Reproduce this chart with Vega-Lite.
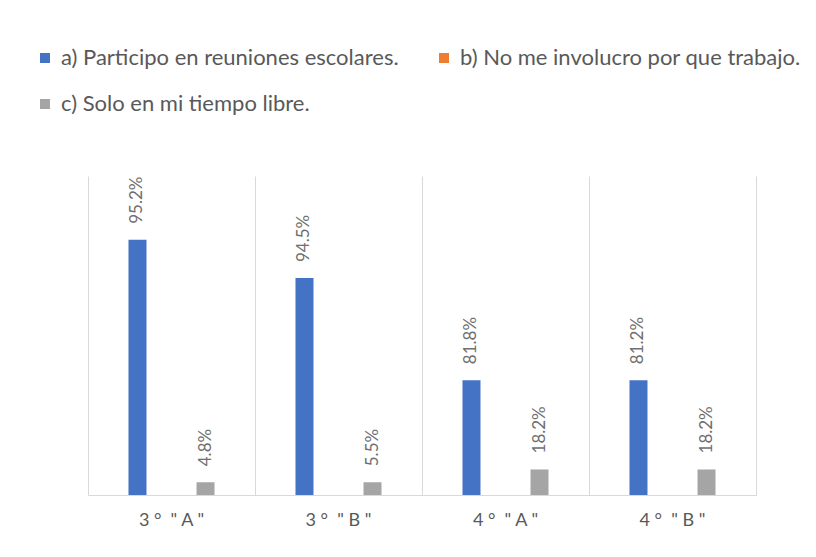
{
  "$schema": "https://vega.github.io/schema/vega-lite/v6.json",
  "autosize": "none",
  "width": 668,
  "height": 319,
  "padding": {"left": 88, "top": 176, "right": 60, "bottom": 62},
  "background": "white",
  "config": {"view": {"stroke": null}, "font": "Lato"},
  "data": {"values": [
    {"grupo": "3 °  \u00a0\" A \"", "serie": "a) Participo en reuniones escolares.", "valor": 20, "etiqueta": "95.2%"},
    {"grupo": "3 °  \u00a0\" A \"", "serie": "b) No me involucro por que trabajo.", "valor": 0, "etiqueta": ""},
    {"grupo": "3 °  \u00a0\" A \"", "serie": "c) Solo en mi tiempo libre.", "valor": 1, "etiqueta": "4.8%"},
    {"grupo": "3 °  \u00a0\" B \"", "serie": "a) Participo en reuniones escolares.", "valor": 17, "etiqueta": "94.5%"},
    {"grupo": "3 °  \u00a0\" B \"", "serie": "b) No me involucro por que trabajo.", "valor": 0, "etiqueta": ""},
    {"grupo": "3 °  \u00a0\" B \"", "serie": "c) Solo en mi tiempo libre.", "valor": 1, "etiqueta": "5.5%"},
    {"grupo": "4 °  \u00a0\" A \"", "serie": "a) Participo en reuniones escolares.", "valor": 9, "etiqueta": "81.8%"},
    {"grupo": "4 °  \u00a0\" A \"", "serie": "b) No me involucro por que trabajo.", "valor": 0, "etiqueta": ""},
    {"grupo": "4 °  \u00a0\" A \"", "serie": "c) Solo en mi tiempo libre.", "valor": 2, "etiqueta": "18.2%"},
    {"grupo": "4 °  \u00a0\" B \"", "serie": "a) Participo en reuniones escolares.", "valor": 9, "etiqueta": "81.2%"},
    {"grupo": "4 °  \u00a0\" B \"", "serie": "b) No me involucro por que trabajo.", "valor": 0, "etiqueta": ""},
    {"grupo": "4 °  \u00a0\" B \"", "serie": "c) Solo en mi tiempo libre.", "valor": 2, "etiqueta": "18.2%"}
  ]},
  "encoding": {
    "x": {
      "field": "grupo", "type": "nominal", "sort": null,
      "scale": {"paddingInner": 0, "paddingOuter": 0},
      "axis": {"title": null, "labelAngle": 0, "ticks": false, "grid": true, "gridColor": "#d9d9d9", "bandPosition": 0,
               "domainColor": "#d9d9d9", "labelFontSize": 18, "labelColor": "#595959", "labelPadding": 16}
    },
    "xOffset": {
      "field": "serie", "type": "nominal", "sort": null,
      "scale": {"paddingInner": 0.09, "paddingOuter": 1}
    },
    "y": {
      "field": "valor", "type": "quantitative",
      "scale": {"domain": [0, 25], "nice": false},
      "axis": {"orient": "right", "title": null, "labels": false, "ticks": false, "grid": false, "domainColor": "#d9d9d9"}
    }
  },
  "layer": [
    {
      "mark": {"type": "bar", "width": 18},
      "encoding": {
        "color": {
          "field": "serie", "type": "nominal", "sort": null,
          "scale": {"range": ["#4472C4", "#ED7D31", "#A5A5A5"]},
          "legend": {"title": null, "orient": "none", "legendX": -54, "legendY": -129, "columns": 2, "direction": "horizontal",
                     "symbolType": "square", "symbolSize": 100, "symbolStrokeWidth": 0, "symbolOpacity": 1,
                     "labelFontSize": 22, "labelColor": "#595959", "labelOffset": 5,
                     "columnPadding": 34, "rowPadding": 24, "labelLimit": 500}
        }
      }
    },
    {
      "mark": {"type": "text", "angle": 270, "align": "left", "baseline": "middle", "dx": 16, "fontSize": 17, "color": "#6f6f6f"},
      "encoding": {"text": {"field": "etiqueta"}}
    }
  ]
}
